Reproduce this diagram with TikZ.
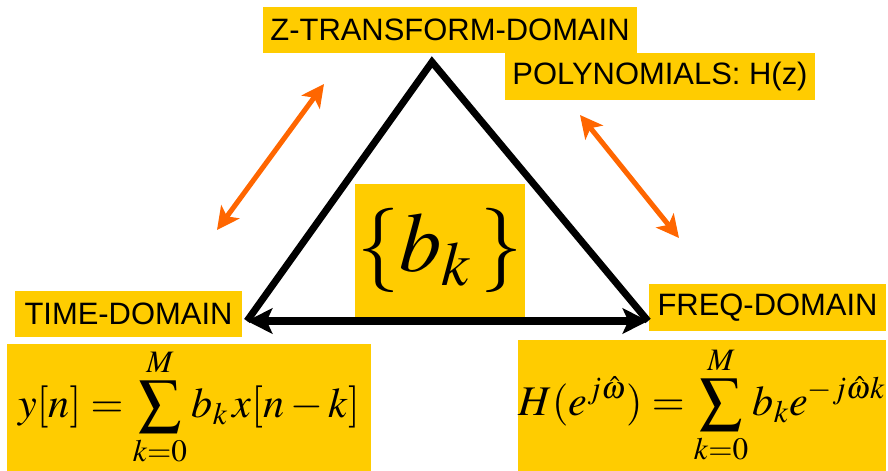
\documentclass[tikz,border=0pt]{standalone}
\usepackage{mathptmx}
\usepackage[no-math]{fontspec}
\setmainfont{Liberation Sans}
\usetikzlibrary{arrows.meta}

\definecolor{boxyellow}{HTML}{FFCC00}
\definecolor{linkorange}{HTML}{FF6600}

\tikzset{
  labelbox/.style={fill=boxyellow, inner sep=0pt, font=\fontsize{22}{26}\selectfont},
  formulabox/.style={fill=boxyellow, inner sep=0pt, font=\fontsize{30}{34}\selectfont},
  triline/.style={line width=5pt, line join=miter},
  linkarrow/.style={line width=3.6pt, linkorange,
    {Stealth[length=16pt, width=16pt, inset=4pt]}-{Stealth[length=16pt, width=16pt, inset=4pt]}},
}

\begin{document}
\begin{tikzpicture}[x=0.025cm, y=-0.025cm]
  \useasboundingbox (0,0) rectangle (888,471);

  % domain labels
  \node[labelbox, minimum width=9.35cm, minimum height=1.15cm] (ztrans) at (450,30) {Z-TRANSFORM-DOMAIN};
  \node[labelbox, minimum width=7.75cm, minimum height=1.175cm] (poly) at (660,76.5) {POLYNOMIALS: H(z)};
  \node[labelbox, minimum width=5.675cm, minimum height=1.15cm] (time) at (128.5,314) {TIME-DOMAIN};
  \node[labelbox, minimum width=5.925cm, minimum height=1.175cm] (freq) at (767.5,307.5) {FREQ-DOMAIN};

  % formulas
  \node[formulabox, minimum width=9.1cm, minimum height=3.175cm] (timeeq) at (189,407.5)
    {$\displaystyle y[n]=\sum_{k=0}^{M} b_k\, x[n-k]$};
  \node[formulabox, minimum width=9.2cm, minimum height=3.275cm] (freqeq) at (702,405.5)
    {$\displaystyle H(e^{j\hat{\omega}})=\sum_{k=0}^{M} b_k e^{-j\hat{\omega}k}$};

  % coefficients in the middle
  \node[formulabox, minimum width=4.25cm, minimum height=3.35cm, font=\fontsize{60}{64}\selectfont] (coef) at (440,251)
    {$\{b_k\,\}$};

  % triangle
  \coordinate (apex) at (432,62);
  \coordinate (tleft) at (247,321);
  \coordinate (tright) at (648,321);
  \draw[triline] (tleft) -- (apex) -- (tright);
  \draw[triline, {Stealth[length=18pt, width=18pt, inset=4pt]}-{Stealth[length=18pt, width=18pt, inset=4pt]}]
    (tleft) -- (tright);

  % orange links
  \coordinate (zl1) at (217,230);
  \coordinate (zl2) at (324,84);
  \coordinate (zr1) at (580,115);
  \coordinate (zr2) at (679,238);
  \draw[linkarrow] (zl1) -- (zl2);
  \draw[linkarrow] (zr1) -- (zr2);
\end{tikzpicture}
\end{document}
